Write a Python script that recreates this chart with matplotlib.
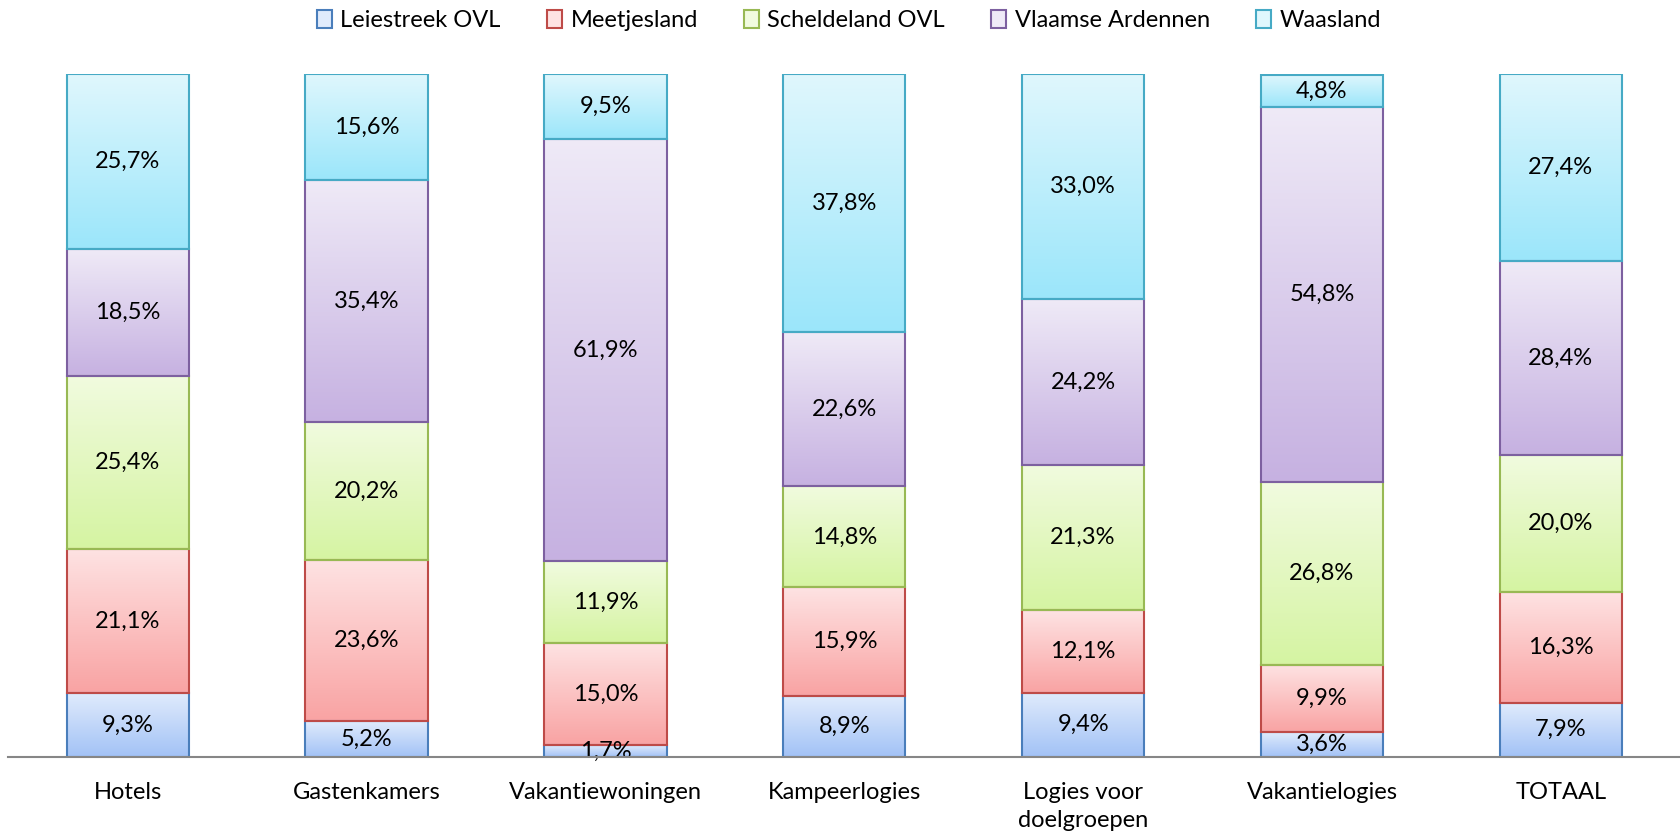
import matplotlib
matplotlib.use("Agg")
import matplotlib.pyplot as plt
import numpy as np
from matplotlib.patches import Patch
from matplotlib.colors import to_rgb

plt.rcParams['font.family'] = ['Lato', 'DejaVu Sans']

categories = ["Hotels", "Gastenkamers", "Vakantiewoningen", "Kampeerlogies",
              "Logies voor\ndoelgroepen", "Vakantielogies", "TOTAAL"]
series_names = ["Leiestreek OVL", "Meetjesland", "Scheldeland OVL",
                "Vlaamse Ardennen", "Waasland"]
leiestreek = [9.3, 5.2, 1.7, 8.9, 9.4, 3.6, 7.9]
meetjesland = [21.1, 23.6, 15.0, 15.9, 12.1, 9.9, 16.3]
scheldeland = [25.4, 20.2, 11.9, 14.8, 21.3, 26.8, 20.0]
vlaamse_ardennen = [18.5, 35.4, 61.9, 22.6, 24.2, 54.8, 28.4]
waasland = [25.7, 15.6, 9.5, 37.8, 33.0, 4.8, 27.4]
series = [leiestreek, meetjesland, scheldeland, vlaamse_ardennen, waasland]

tops = ["#e0ebfc", "#fee3e3", "#f1fbdf", "#efeaf7", "#e0f7fd"]
bottoms = ["#a2c2f6", "#f9a3a3", "#d5f4a2", "#c6b1e1", "#9be6fa"]
edges = ["#4a7ebb", "#be4b48", "#98b954", "#7d60a0", "#46aac5"]

fig = plt.figure(figsize=(16.81, 8.35), dpi=100)
ax = fig.add_axes([0.005, 0.0937, 0.9945, 0.8177])

x = np.arange(len(categories))
width = 0.512
bottom = np.zeros(len(categories))
FS = 17

for vals, ct, cb, ce in zip(series, tops, bottoms, edges):
    vals = np.array(vals)
    bars = ax.bar(x, vals, width, bottom=bottom, facecolor='none',
                  edgecolor=ce, linewidth=1.5, zorder=3)
    t = np.array(to_rgb(ct))
    b = np.array(to_rgb(cb))
    grad = np.linspace(0, 1, 256)[:, None]
    img = (t[None, :] * (1 - grad) + b[None, :] * grad)[:, None, :]
    for rect, v, bt in zip(bars, vals, bottom):
        x0 = rect.get_x()
        im = ax.imshow(img, extent=(x0, x0 + width, bt, bt + v),
                       aspect='auto', origin='upper', zorder=2,
                       interpolation='bilinear')
        im.set_clip_path(rect)
        ax.text(x0 + width / 2, bt + v / 2,
                f"{v:.1f}%".replace('.', ','),
                ha='center', va='center', fontsize=FS, color='black', zorder=4)
    bottom = bottom + vals

ax.set_xlim(-0.5, 6.5)
ax.set_ylim(0, 100)
for s in ['top', 'right', 'left']:
    ax.spines[s].set_visible(False)
ax.spines['bottom'].set_color('#868686')
ax.spines['bottom'].set_linewidth(1.5)
ax.spines['bottom'].set_zorder(5)
ax.set_yticks([])
ax.set_xticks(x)
ax.set_xticklabels(categories, fontsize=FS, linespacing=1.45)
ax.tick_params(axis='x', length=0, pad=18)

handles = [Patch(facecolor=ct, edgecolor=ce, linewidth=1.5)
           for ct, ce in zip(tops, edges)]
fig.legend(handles, series_names, loc='center', bbox_to_anchor=(0.505, 0.975),
           ncol=5, frameon=False, fontsize=FS, handlelength=0.65,
           handleheight=0.75, handletextpad=0.35, columnspacing=1.95)

fig.savefig("out.png", dpi=100)
